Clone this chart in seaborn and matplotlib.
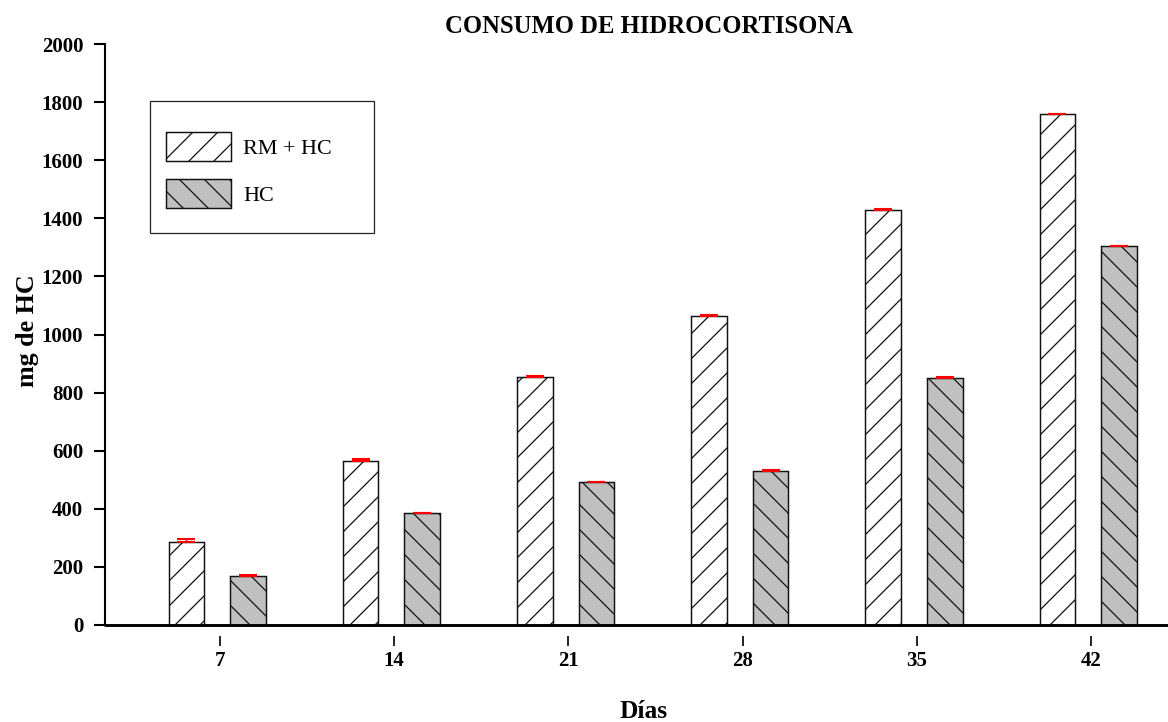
import numpy as np
import pandas as pd
import matplotlib
matplotlib.use("Agg")
import matplotlib.pyplot as plt
import matplotlib.patches as mpatches
import seaborn as sns

# ---- data ----
days = ["7", "14", "21", "28", "35", "42"]
groups = ["RM + HC", "HC"]
rm_hc = [286, 564, 852, 1065, 1430, 1758]
hc = [168, 384, 491, 530, 850, 1304]
rm_hc_err = [9, 6, 5, 3, 3, 2]
hc_err = [3, 3, 2, 2, 2, 2]
y_ticks = [0, 200, 400, 600, 800, 1000, 1200, 1400, 1600, 1800, 2000]

title = "CONSUMO DE HIDROCORTISONA"
xlabel = "Días"
ylabel = "mg de HC"

df = pd.DataFrame({
    "Día": days * 2,
    "mg": rm_hc + hc,
    "Grupo": [groups[0]] * len(days) + [groups[1]] * len(days),
})

sns.set_theme(style="white")
plt.rcParams["font.family"] = ["Liberation Serif", "DejaVu Serif"]
plt.rcParams["hatch.linewidth"] = 0.6
plt.rcParams["hatch.color"] = "black"
for k in ["text.color", "axes.labelcolor", "xtick.color", "ytick.color"]:
    plt.rcParams[k] = "black"

DPI = 150
W, H = 1168, 722
fig = plt.figure(figsize=(W / DPI, H / DPI), dpi=DPI)
ax = fig.add_axes([105 / W, 1 - 625 / H, (W - 105) / W, (625 - 44) / H])

palette = {groups[0]: "white", groups[1]: "#c0c0c0"}
sns.barplot(data=df, x="Día", y="mg", hue="Grupo", order=days, hue_order=groups,
            palette=palette, saturation=1, width=0.706, gap=0.422,
            edgecolor="#111111", linewidth=0.7, errorbar=None, legend=False,
            ax=ax, zorder=2)

hatches = ["//", "\\\\"]
errs = [rm_hc_err, hc_err]
vals = [rm_hc, hc]
for cont, hatch, err, v in zip(ax.containers, hatches, errs, vals):
    xs = []
    for bar in cont:
        bar.set_hatch(hatch)
        xs.append(bar.get_x() + bar.get_width() / 2)
    ax.errorbar(xs, v, yerr=[np.zeros(len(err)), err], fmt="none",
                ecolor="red", elinewidth=0.7, capsize=4.1, capthick=1.0,
                zorder=5)

# axes limits and ticks
ax.set_xlim(-0.644, 5.458)
ax.set_ylim(0, 2000)
ax.set_yticks(y_ticks)
ax.set_yticklabels([str(t) for t in y_ticks])
ax.set_xticks(np.arange(len(days)) + 0.016)
ax.set_xticklabels(days)

for s in ["top", "right"]:
    ax.spines[s].set_visible(False)
ax.spines["left"].set_linewidth(1.0)
ax.spines["left"].set_color("black")
ax.spines["bottom"].set_visible(False)
ax.spines["bottom"].set_position(("outward", 5.3))
ax.axhline(0, color="black", lw=1.4, clip_on=False, zorder=4)

ax.tick_params(axis="y", direction="out", length=5.1, width=1.0, pad=5.3,
               left=True, labelsize=10, colors="black")
ax.tick_params(axis="x", direction="out", length=4.8, width=0.8, pad=2.4,
               bottom=True, labelsize=10, colors="black")
for lab in ax.get_xticklabels() + ax.get_yticklabels():
    lab.set_fontweight("bold")

ax.grid(False)

# titles / labels
ax.set_title(title, fontsize=11.8, fontweight="bold", color="black",
             x=(649 - 105) / 1063, y=(625 - 33) / 581, pad=0, va="baseline")
ax.set_xlabel(xlabel, fontsize=12.2, fontweight="bold", color="black")
ax.xaxis.label.set_va("baseline")
ax.xaxis.set_label_coords((644 - 105) / 1063, (625 - 718) / 581)
ax.set_ylabel(ylabel, fontsize=12.5, fontweight="bold", color="black")
ax.yaxis.set_label_coords((39 - 105) / 1063, (625 - 331) / 581)

# legend
handles = [
    mpatches.Patch(facecolor="white", edgecolor="#111111", hatch="//", lw=0.7, label=groups[0]),
    mpatches.Patch(facecolor="#c0c0c0", edgecolor="#111111", hatch="\\\\", lw=0.7, label=groups[1]),
]
fig.legend(handles=handles, loc="upper left",
           bbox_to_anchor=(166 / W, 1 - 132 / H), bbox_transform=fig.transFigure,
           frameon=False, borderpad=0, borderaxespad=0, fontsize=10.6,
           handlelength=2.95, handleheight=1.65, labelspacing=0.82,
           handletextpad=0.55, labelcolor="black")
frame = mpatches.Rectangle((150 / W, 1 - 233 / H), 224 / W, 132 / H,
                           transform=fig.transFigure, fill=False,
                           edgecolor="#222222", lw=0.6)
fig.patches.append(frame)

fig.savefig("out.png", dpi=DPI)
